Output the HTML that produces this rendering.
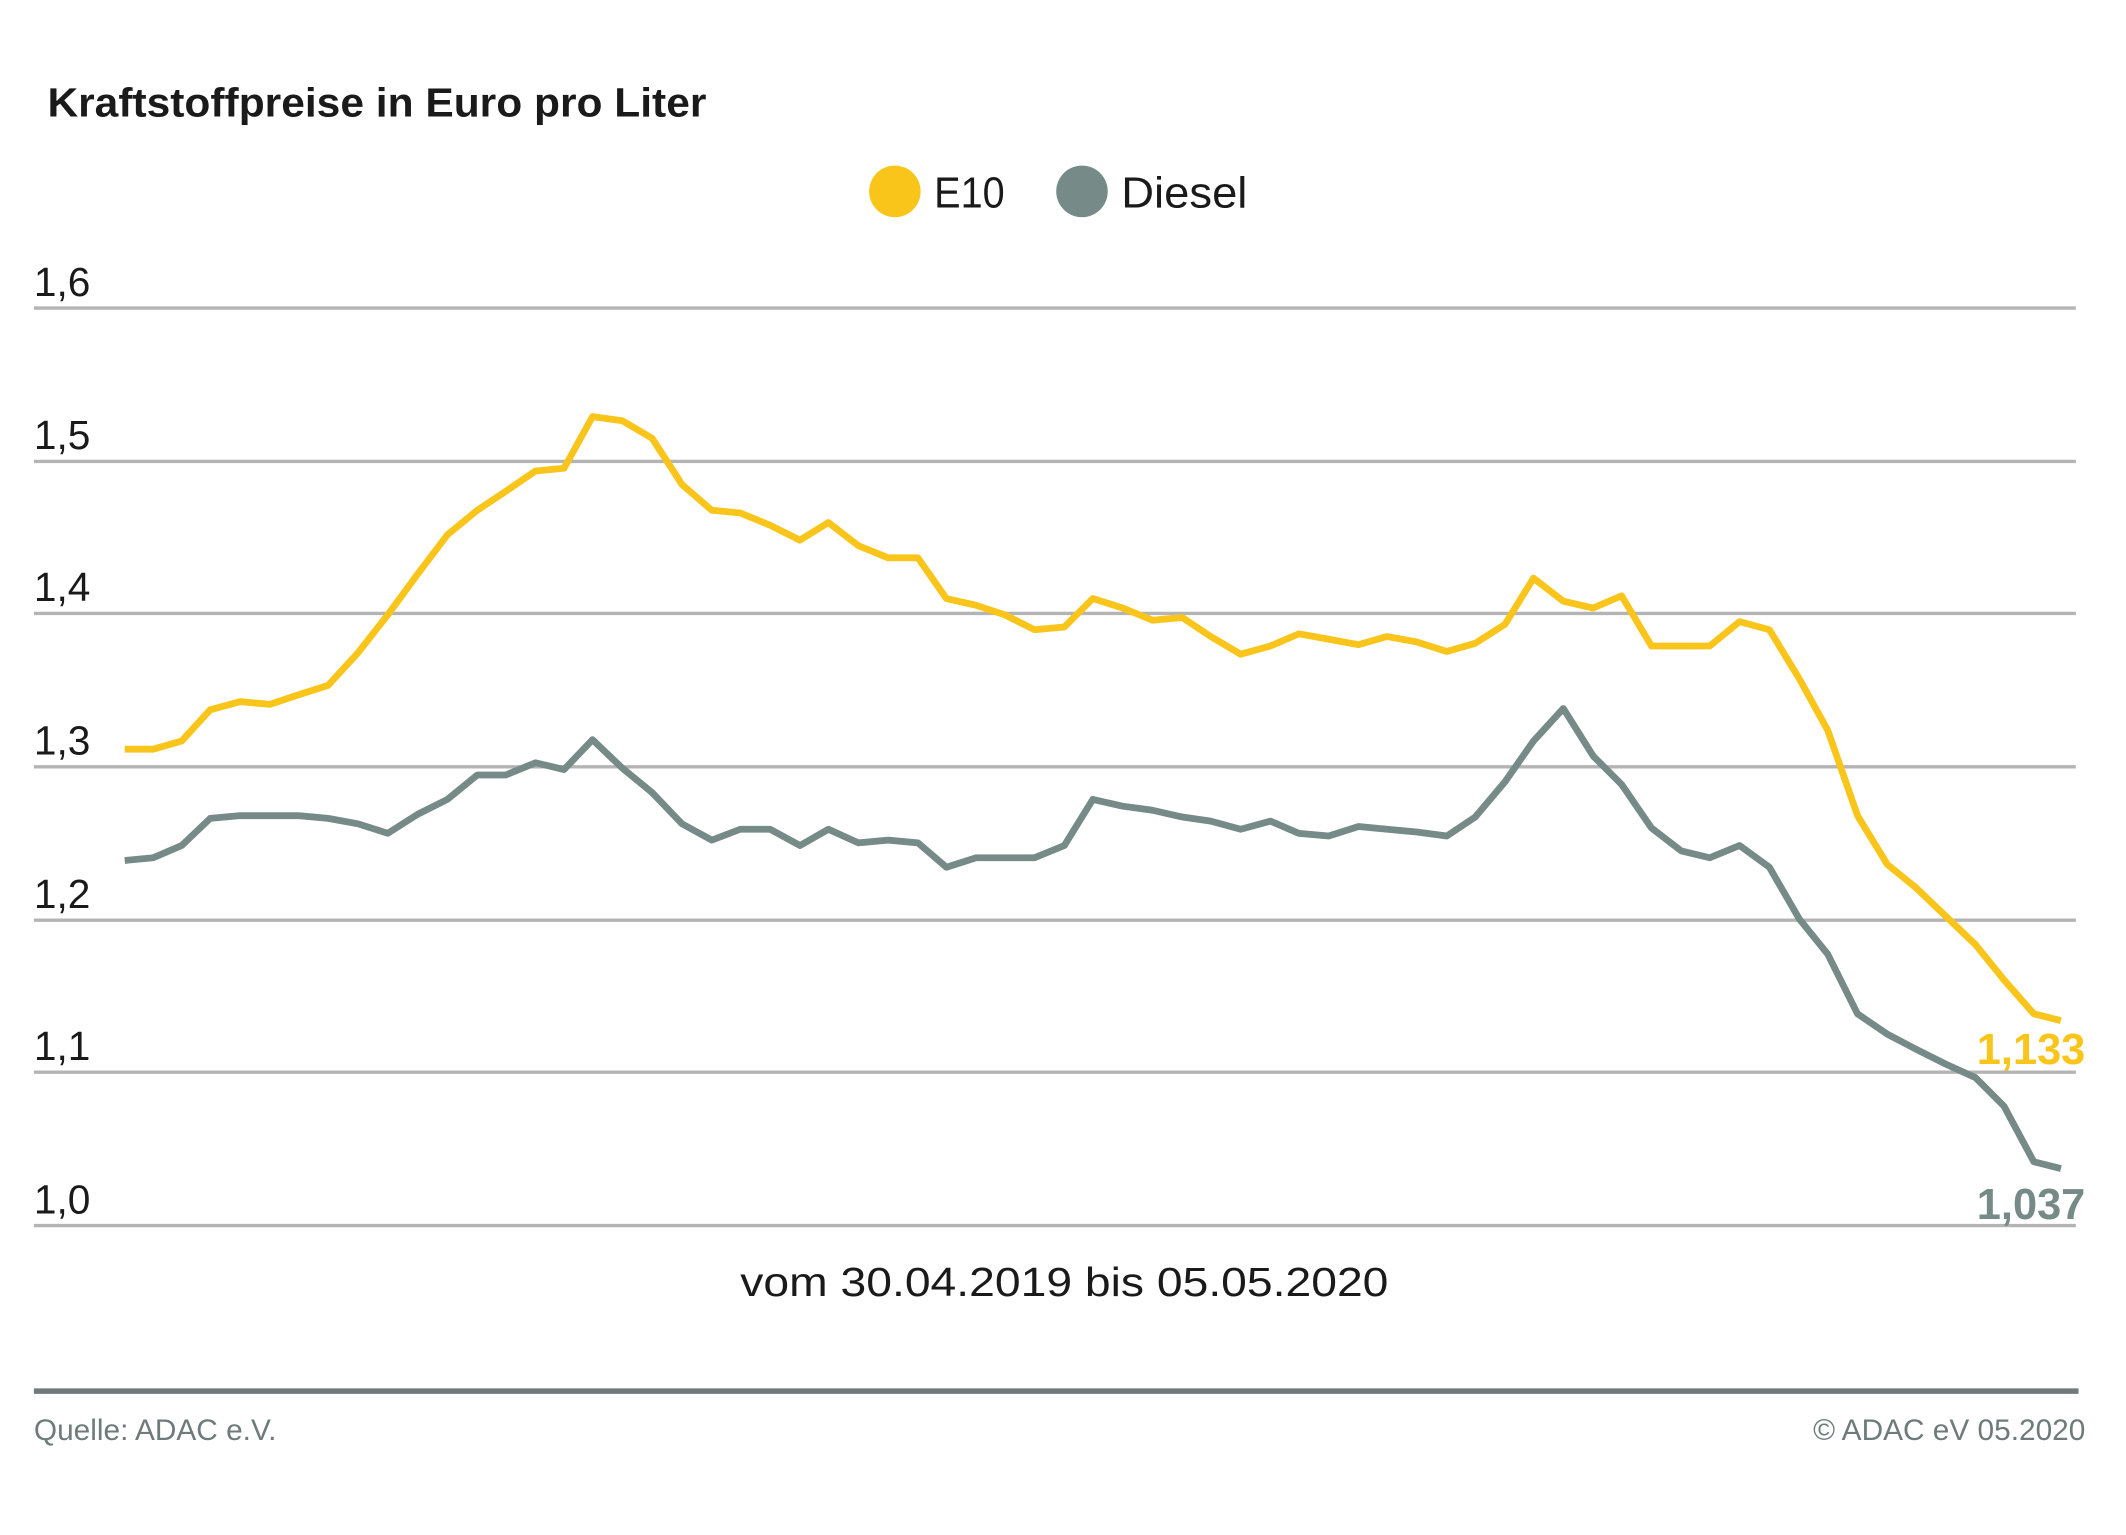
<!DOCTYPE html>
<html><head><meta charset="utf-8"><style>html,body{margin:0;padding:0;background:#fff}svg{display:block}</style></head>
<body>
<svg width="2126" height="1535" viewBox="0 0 1568 1131" preserveAspectRatio="none" xmlns="http://www.w3.org/2000/svg" font-family="'Liberation Sans', sans-serif">
<rect width="1568" height="1131" fill="#fff"/>
<text x="35" y="86" font-size="30" font-weight="bold" fill="#1a1a1a" textLength="486" lengthAdjust="spacingAndGlyphs">Kraftstoffpreise in Euro pro Liter</text>
<circle cx="660" cy="141" r="19" fill="#f9c51a"/>
<text x="689" y="153" font-size="32" fill="#1a1a1a" textLength="52" lengthAdjust="spacingAndGlyphs">E10</text>
<circle cx="798" cy="141" r="19" fill="#768a87"/>
<text x="827" y="153" font-size="32" fill="#1a1a1a" textLength="93" lengthAdjust="spacingAndGlyphs">Diesel</text>
<g stroke="#b4b4b4" stroke-width="2.5">
<line x1="25" y1="227" x2="1531" y2="227"/><line x1="25" y1="340" x2="1531" y2="340"/><line x1="25" y1="452" x2="1531" y2="452"/><line x1="25" y1="565" x2="1531" y2="565"/><line x1="25" y1="678" x2="1531" y2="678"/><line x1="25" y1="790" x2="1531" y2="790"/><line x1="25" y1="903" x2="1531" y2="903"/>
</g>
<g font-size="30" fill="#1a1a1a">
<text x="25" y="218">1,6</text><text x="25" y="331">1,5</text><text x="25" y="443">1,4</text><text x="25" y="556">1,3</text><text x="25" y="669">1,2</text><text x="25" y="781">1,1</text><text x="25" y="894">1,0</text>
</g>
<polyline fill="none" stroke="#f9c51a" stroke-width="5" stroke-linejoin="round" points="92,552 113,552 134,546 155,523 177,517 199,519 220,512 242,505 264,481 286,453 308,423 330,394 352,376 373,362 395,347 416,345 437,307 459,310 481,323 503,357 525,376 546,378 568,387 590,398 611,385 633,402 655,411 677,411 698,441 720,446 741,453 763,464 785,462 806,441 828,448 850,457 872,455 893,469 915,482 937,476 958,467 980,471 1002,475 1023,469 1045,473 1067,480 1088,474 1110,460 1131,426 1153,443 1175,448 1196,439 1218,476 1240,476 1261,476 1283,458 1305,464 1327,500 1348,538 1370,601 1392,637 1413,654 1435,675 1457,696 1478,722 1500,747 1520,752"/>
<polyline fill="none" stroke="#768a87" stroke-width="5" stroke-linejoin="round" points="92,634 113,632 134,623 155,603 177,601 199,601 220,601 242,603 264,607 286,614 308,600 330,589 352,571 373,571 395,562 416,567 437,545 459,566 481,584 503,607 525,619 546,611 568,611 590,623 611,611 633,621 655,619 677,621 698,639 720,632 741,632 763,632 785,623 806,589 828,594 850,597 872,602 893,605 915,611 937,605 958,614 980,616 1002,609 1023,611 1045,613 1067,616 1088,602 1110,576 1131,546 1153,522 1175,557 1196,578 1218,610 1240,627 1261,632 1283,623 1305,639 1327,677 1348,703 1370,747 1392,762 1413,773 1435,784 1457,794 1478,815 1500,856 1520,861"/>
<text x="1538" y="784" font-size="32" font-weight="bold" fill="#f9c51a" text-anchor="end">1,133</text>
<text x="1538" y="898" font-size="32" font-weight="bold" fill="#768a87" text-anchor="end">1,037</text>
<text x="785" y="955" font-size="30" fill="#1a1a1a" text-anchor="middle" textLength="478" lengthAdjust="spacingAndGlyphs">vom 30.04.2019 bis 05.05.2020</text>
<line x1="25" y1="1025" x2="1533" y2="1025" stroke="#6f7b7b" stroke-width="4"/>
<text x="25" y="1061" font-size="22" fill="#6f7b7b">Quelle: ADAC e.V.</text>
<text x="1538" y="1061" font-size="22" fill="#6f7b7b" text-anchor="end">© ADAC eV 05.2020</text>
</svg>
</body></html>
